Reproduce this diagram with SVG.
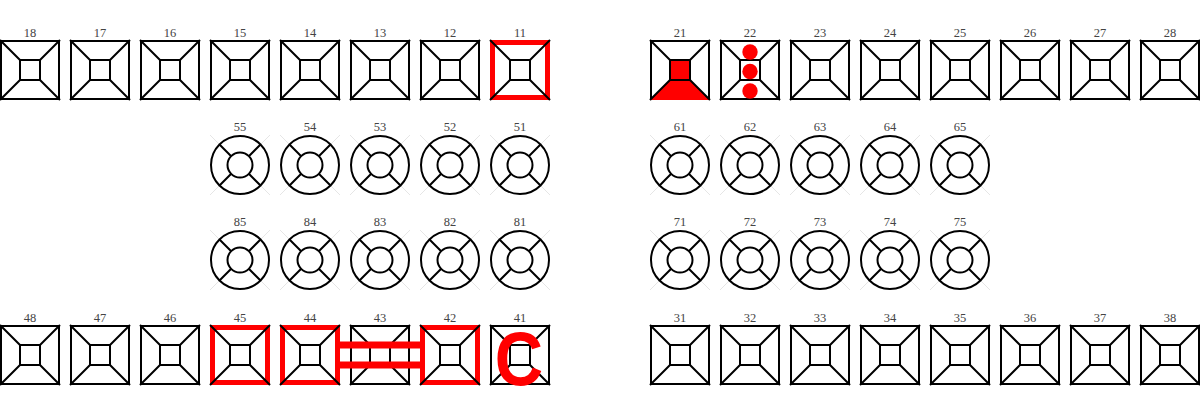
<svg xmlns="http://www.w3.org/2000/svg" xmlns:xlink="http://www.w3.org/1999/xlink" width="1200" height="409" viewBox="0 0 1200 409">
<style>
.lbl{font-family:"Liberation Serif","Times New Roman",serif;font-size:12.5px;fill:#444;text-anchor:middle}
.ln{fill:none;stroke:#000;stroke-width:2}
.faint{fill:none;stroke:#e6e6e6;stroke-width:1}
.red{fill:none;stroke:#f00;stroke-width:5}
.redfill{fill:#f00;stroke:none}
.bar{fill:#f00}
.mark{font-family:"Liberation Sans",Arial,sans-serif;font-weight:bold;font-size:76px;fill:#f00;text-anchor:middle}
</style>
<defs>
<g id="box"><rect class="ln" x="1" y="1" width="58" height="58"/></g>
<g id="lines">
<path class="ln" d="M0,0L20,20M60,0L40,20M0,60L20,40M60,60L40,40"/>
<rect class="ln" x="20" y="20" width="20" height="20"/>
</g>
<g id="sq"><use xlink:href="#box"/><use xlink:href="#lines"/></g>
<g id="redbox"><rect class="red" x="2.5" y="2.5" width="55" height="55"/></g>
<g id="circ">
<path class="faint" d="M-30,-30L-20.5,-20.5M30,-30L20.5,-20.5M-30,30L-20.5,20.5M30,30L20.5,20.5"/>
<circle class="ln" cx="0" cy="0" r="29"/>
<circle class="ln" cx="0" cy="0" r="12.5"/>
<path class="ln" d="M-20.5,-20.5L-8.8,-8.8M20.5,-20.5L8.8,-8.8M-20.5,20.5L-8.8,8.8M20.5,20.5L8.8,8.8"/>
</g>
</defs>

<!-- Upper permanent right (18-11) -->
<g id="t18"><use xlink:href="#sq" x="0" y="40"/><text class="lbl" x="30" y="37">18</text></g>
<g id="t17"><use xlink:href="#sq" x="70" y="40"/><text class="lbl" x="100" y="37">17</text></g>
<g id="t16"><use xlink:href="#sq" x="140" y="40"/><text class="lbl" x="170" y="37">16</text></g>
<g id="t15"><use xlink:href="#sq" x="210" y="40"/><text class="lbl" x="240" y="37">15</text></g>
<g id="t14"><use xlink:href="#sq" x="280" y="40"/><text class="lbl" x="310" y="37">14</text></g>
<g id="t13"><use xlink:href="#sq" x="350" y="40"/><text class="lbl" x="380" y="37">13</text></g>
<g id="t12"><use xlink:href="#sq" x="420" y="40"/><text class="lbl" x="450" y="37">12</text></g>
<g id="t11"><use xlink:href="#box" x="490" y="40"/><use xlink:href="#redbox" x="490" y="40"/><use xlink:href="#lines" x="490" y="40"/><text class="lbl" x="520" y="37">11</text></g>

<!-- Upper permanent left (21-28) -->
<g id="t21"><use xlink:href="#box" x="650" y="40"/>
<rect class="redfill" x="670" y="60" width="20" height="20"/>
<polygon class="redfill" points="650,100 710,100 690,80 670,80"/>
<use xlink:href="#lines" x="650" y="40"/><text class="lbl" x="680" y="37">21</text></g>
<g id="t22"><use xlink:href="#sq" x="720" y="40"/>
<circle class="redfill" cx="750" cy="52" r="7.7"/>
<circle class="redfill" cx="750" cy="71.5" r="7.7"/>
<circle class="redfill" cx="750" cy="91" r="7.7"/>
<text class="lbl" x="750" y="37">22</text></g>
<g id="t23"><use xlink:href="#sq" x="790" y="40"/><text class="lbl" x="820" y="37">23</text></g>
<g id="t24"><use xlink:href="#sq" x="860" y="40"/><text class="lbl" x="890" y="37">24</text></g>
<g id="t25"><use xlink:href="#sq" x="930" y="40"/><text class="lbl" x="960" y="37">25</text></g>
<g id="t26"><use xlink:href="#sq" x="1000" y="40"/><text class="lbl" x="1030" y="37">26</text></g>
<g id="t27"><use xlink:href="#sq" x="1070" y="40"/><text class="lbl" x="1100" y="37">27</text></g>
<g id="t28"><use xlink:href="#sq" x="1140" y="40"/><text class="lbl" x="1170" y="37">28</text></g>

<!-- Upper deciduous -->
<g id="t55"><use xlink:href="#circ" x="240" y="165"/><text class="lbl" x="240" y="131">55</text></g>
<g id="t54"><use xlink:href="#circ" x="310" y="165"/><text class="lbl" x="310" y="131">54</text></g>
<g id="t53"><use xlink:href="#circ" x="380" y="165"/><text class="lbl" x="380" y="131">53</text></g>
<g id="t52"><use xlink:href="#circ" x="450" y="165"/><text class="lbl" x="450" y="131">52</text></g>
<g id="t51"><use xlink:href="#circ" x="520" y="165"/><text class="lbl" x="520" y="131">51</text></g>
<g id="t61"><use xlink:href="#circ" x="680" y="165"/><text class="lbl" x="680" y="131">61</text></g>
<g id="t62"><use xlink:href="#circ" x="750" y="165"/><text class="lbl" x="750" y="131">62</text></g>
<g id="t63"><use xlink:href="#circ" x="820" y="165"/><text class="lbl" x="820" y="131">63</text></g>
<g id="t64"><use xlink:href="#circ" x="890" y="165"/><text class="lbl" x="890" y="131">64</text></g>
<g id="t65"><use xlink:href="#circ" x="960" y="165"/><text class="lbl" x="960" y="131">65</text></g>

<!-- Lower deciduous -->
<g id="t85"><use xlink:href="#circ" x="240" y="260"/><text class="lbl" x="240" y="226">85</text></g>
<g id="t84"><use xlink:href="#circ" x="310" y="260"/><text class="lbl" x="310" y="226">84</text></g>
<g id="t83"><use xlink:href="#circ" x="380" y="260"/><text class="lbl" x="380" y="226">83</text></g>
<g id="t82"><use xlink:href="#circ" x="450" y="260"/><text class="lbl" x="450" y="226">82</text></g>
<g id="t81"><use xlink:href="#circ" x="520" y="260"/><text class="lbl" x="520" y="226">81</text></g>
<g id="t71"><use xlink:href="#circ" x="680" y="260"/><text class="lbl" x="680" y="226">71</text></g>
<g id="t72"><use xlink:href="#circ" x="750" y="260"/><text class="lbl" x="750" y="226">72</text></g>
<g id="t73"><use xlink:href="#circ" x="820" y="260"/><text class="lbl" x="820" y="226">73</text></g>
<g id="t74"><use xlink:href="#circ" x="890" y="260"/><text class="lbl" x="890" y="226">74</text></g>
<g id="t75"><use xlink:href="#circ" x="960" y="260"/><text class="lbl" x="960" y="226">75</text></g>

<!-- Lower permanent right (48-41) -->
<g id="t48"><use xlink:href="#sq" x="0" y="325"/><text class="lbl" x="30" y="322">48</text></g>
<g id="t47"><use xlink:href="#sq" x="70" y="325"/><text class="lbl" x="100" y="322">47</text></g>
<g id="t46"><use xlink:href="#sq" x="140" y="325"/><text class="lbl" x="170" y="322">46</text></g>
<g id="t45"><use xlink:href="#box" x="210" y="325"/><use xlink:href="#redbox" x="210" y="325"/><use xlink:href="#lines" x="210" y="325"/><text class="lbl" x="240" y="322">45</text></g>
<g id="t44"><use xlink:href="#box" x="280" y="325"/><use xlink:href="#redbox" x="280" y="325"/><use xlink:href="#lines" x="280" y="325"/><text class="lbl" x="310" y="322">44</text></g>
<g id="t43"><use xlink:href="#sq" x="350" y="325"/><text class="lbl" x="380" y="322">43</text></g>
<g id="t42"><use xlink:href="#box" x="420" y="325"/><use xlink:href="#redbox" x="420" y="325"/><use xlink:href="#lines" x="420" y="325"/><text class="lbl" x="450" y="322">42</text></g>
<g id="t41"><use xlink:href="#sq" x="490" y="325"/><text class="lbl" x="520" y="322">41</text>
<text class="mark" transform="translate(519,385) scale(0.88,1)" x="0" y="0">C</text></g>

<!-- Lower permanent left (31-38) -->
<g id="t31"><use xlink:href="#sq" x="650" y="325"/><text class="lbl" x="680" y="322">31</text></g>
<g id="t32"><use xlink:href="#sq" x="720" y="325"/><text class="lbl" x="750" y="322">32</text></g>
<g id="t33"><use xlink:href="#sq" x="790" y="325"/><text class="lbl" x="820" y="322">33</text></g>
<g id="t34"><use xlink:href="#sq" x="860" y="325"/><text class="lbl" x="890" y="322">34</text></g>
<g id="t35"><use xlink:href="#sq" x="930" y="325"/><text class="lbl" x="960" y="322">35</text></g>
<g id="t36"><use xlink:href="#sq" x="1000" y="325"/><text class="lbl" x="1030" y="322">36</text></g>
<g id="t37"><use xlink:href="#sq" x="1070" y="325"/><text class="lbl" x="1100" y="322">37</text></g>
<g id="t38"><use xlink:href="#sq" x="1140" y="325"/><text class="lbl" x="1170" y="322">38</text></g>

<!-- Connectors: bridge 44-42 -->
<g id="connectors">
<rect class="bar" x="338" y="341.5" width="84" height="7"/>
<rect class="bar" x="338" y="361.5" width="84" height="7"/>
</g>
</svg>
